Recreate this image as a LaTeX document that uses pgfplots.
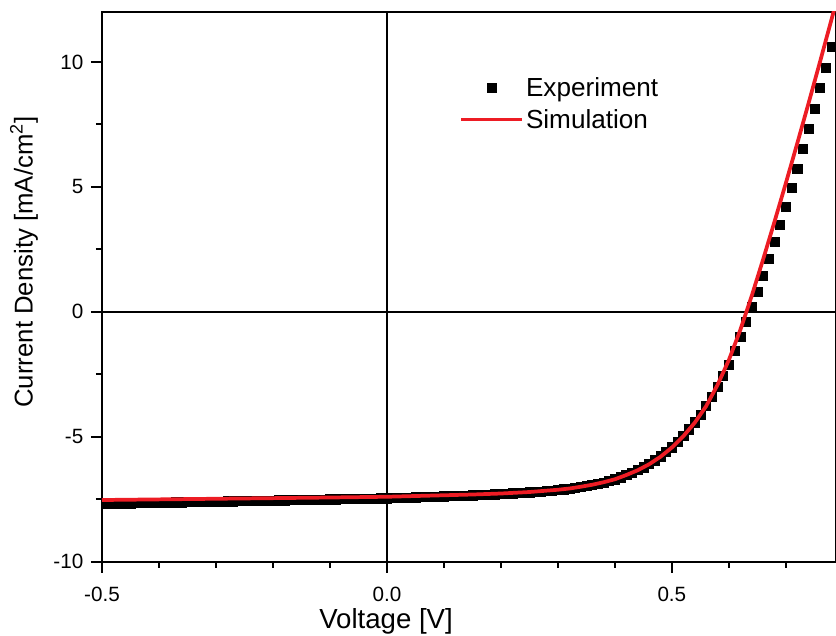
\documentclass[border=0pt]{standalone}
\usepackage{fontspec}
\setmainfont{Liberation Sans}
\usepackage{pgfplots}
\pgfplotsset{compat=1.18}
\definecolor{simred}{RGB}{237,28,36}
\pgfplotsset{
  mylinelegend/.style={legend image code/.code={\draw[##1] (0pt,2.4pt) -- (45.75pt,2.4pt);}},
  mymarklegend/.style={legend image code/.code={\draw[mark repeat=2,mark phase=2,##1] plot coordinates {(0pt,2.2pt) (22.875pt,2.2pt) (45.75pt,2.2pt)};}},
}
\begin{document}
\begin{tikzpicture}
\begin{axis}[
  at={(0,0)}, anchor=south west,
  scale only axis, width=550.5pt, height=412.3pt,
  xmin=-0.5, xmax=0.788, ymin=-10, ymax=12,
  clip marker paths=true,
  xtick={-0.5,0,0.5}, xticklabels={-0.5,0.0,0.5},
  ytick={-10,-5,0,5,10}, yticklabels={-10,-5,0,5,10},
  minor xtick={-0.4,-0.3,-0.2,-0.1,0.1,0.2,0.3,0.4,0.6,0.7},
  minor ytick={-7.5,-2.5,2.5,7.5},
  tick align=outside, xtick pos=bottom, ytick pos=left,
  major tick length=8.25pt, minor tick length=4.5pt,
  every tick/.style={black, line width=1.5pt},
  axis line style={line width=1.5pt},
  tick label style={font=\fontsize{15.5}{18}\selectfont},
  yticklabel style={anchor=east, inner sep=0pt, xshift=-5.6pt},
  xticklabel style={anchor=north, inner sep=0pt, yshift=-10.5pt},
  xlabel={Voltage [V]},
  ylabel={Current Density [mA/cm\textsuperscript{2}]},
  every axis x label/.style={at={(axis description cs:0.387,-0.1213)}, anchor=base, font=\fontsize{20.7}{24}\selectfont},
  every axis y label/.style={at={(axis description cs:-0.0945,0.545)}, rotate=90, anchor=base, font=\fontsize{19.3}{23}\selectfont},
  legend style={draw=none, fill=none, at={(axis description cs:0.4864,0.8775)}, anchor=north west,
    inner sep=0pt, row sep=6.8pt, font=\fontsize{19.6}{23}\selectfont,
    nodes={inner sep=0pt, text height=13pt, text depth=4pt},
    /tikz/every odd column/.append style={column sep=1.5pt}},
  legend cell align=left,
]
\draw[line width=1.5pt] (axis cs:0,-10) -- (axis cs:0,12);
\draw[line width=1.5pt] (axis cs:-0.5,0) -- (axis cs:0.788,0);
\addplot[only marks, mark=square*, mark size=3.4pt, black, mymarklegend] coordinates {
(-0.50,-7.68) (-0.49,-7.68) (-0.48,-7.67) (-0.47,-7.67) (-0.46,-7.66) (-0.45,-7.66) (-0.44,-7.65) (-0.43,-7.65) (-0.42,-7.64) (-0.41,-7.64)
(-0.40,-7.64) (-0.39,-7.63) (-0.38,-7.63) (-0.37,-7.62) (-0.36,-7.62) (-0.35,-7.61) (-0.34,-7.61) (-0.33,-7.60) (-0.32,-7.60) (-0.31,-7.60)
(-0.30,-7.59) (-0.29,-7.59) (-0.28,-7.58) (-0.27,-7.58) (-0.26,-7.57) (-0.25,-7.57) (-0.24,-7.56) (-0.23,-7.56) (-0.22,-7.56) (-0.21,-7.55)
(-0.20,-7.55) (-0.19,-7.54) (-0.18,-7.54) (-0.17,-7.53) (-0.16,-7.53) (-0.15,-7.52) (-0.14,-7.52) (-0.13,-7.51) (-0.12,-7.51) (-0.11,-7.51)
(-0.10,-7.50) (-0.09,-7.50) (-0.08,-7.49) (-0.07,-7.49) (-0.06,-7.48) (-0.05,-7.48) (-0.04,-7.47) (-0.03,-7.47) (-0.02,-7.47) (-0.01,-7.46)
(0.00,-7.46) (0.01,-7.45) (0.02,-7.44) (0.03,-7.44) (0.04,-7.43) (0.05,-7.42) (0.06,-7.41) (0.07,-7.40) (0.08,-7.40) (0.09,-7.39)
(0.10,-7.38) (0.11,-7.37) (0.12,-7.36) (0.13,-7.36) (0.14,-7.35) (0.15,-7.34) (0.16,-7.33) (0.17,-7.32) (0.18,-7.31) (0.19,-7.30)
(0.20,-7.29) (0.21,-7.28) (0.22,-7.26) (0.23,-7.25) (0.24,-7.24) (0.25,-7.22) (0.26,-7.21) (0.27,-7.19) (0.28,-7.17) (0.29,-7.15)
(0.30,-7.13) (0.31,-7.10) (0.32,-7.08) (0.33,-7.04) (0.34,-7.01) (0.35,-6.97) (0.36,-6.93) (0.37,-6.88) (0.38,-6.83) (0.39,-6.77)
(0.40,-6.70) (0.41,-6.62) (0.42,-6.53) (0.43,-6.44) (0.44,-6.33) (0.45,-6.22) (0.46,-6.08) (0.47,-5.94) (0.48,-5.78) (0.49,-5.61)
(0.50,-5.42) (0.51,-5.20) (0.52,-4.96) (0.53,-4.70) (0.54,-4.42) (0.55,-4.11) (0.56,-3.77) (0.57,-3.40) (0.58,-2.99) (0.59,-2.56)
(0.60,-2.10) (0.61,-1.57) (0.62,-1.00) (0.63,-0.40) (0.64,0.20) (0.65,0.82) (0.66,1.46) (0.67,2.12) (0.68,2.80) (0.69,3.50)
(0.70,4.22) (0.71,4.97) (0.72,5.74) (0.73,6.53) (0.74,7.33) (0.75,8.14) (0.76,8.96) (0.77,9.78) (0.78,10.60) (0.79,11.42)
};
\addlegendentry{Experiment}
\addplot[simred, line width=2.8pt, mylinelegend] coordinates {
(-0.50,-7.53) (-0.40,-7.505) (-0.30,-7.48) (-0.20,-7.455) (-0.10,-7.43) (0.00,-7.40) (0.05,-7.37) (0.10,-7.34)
(0.15,-7.31) (0.20,-7.27) (0.25,-7.21) (0.30,-7.12) (0.32,-7.07) (0.34,-7.00) (0.36,-6.92) (0.38,-6.82)
(0.40,-6.70) (0.42,-6.53) (0.44,-6.34) (0.46,-6.10) (0.48,-5.80) (0.50,-5.43) (0.52,-4.98) (0.54,-4.44)
(0.56,-3.78) (0.58,-2.93) (0.60,-1.93) (0.62,-0.73) (0.64,0.63) (0.66,2.09) (0.68,3.60) (0.70,5.15)
(0.72,6.74) (0.74,8.36) (0.76,10.01) (0.78,11.69) (0.80,13.39)
};
\addlegendentry{Simulation}
\end{axis}
\pgfresetboundingbox
\path (-76.5pt,-55pt) rectangle (550.5pt,421.3pt);
\end{tikzpicture}
\end{document}
